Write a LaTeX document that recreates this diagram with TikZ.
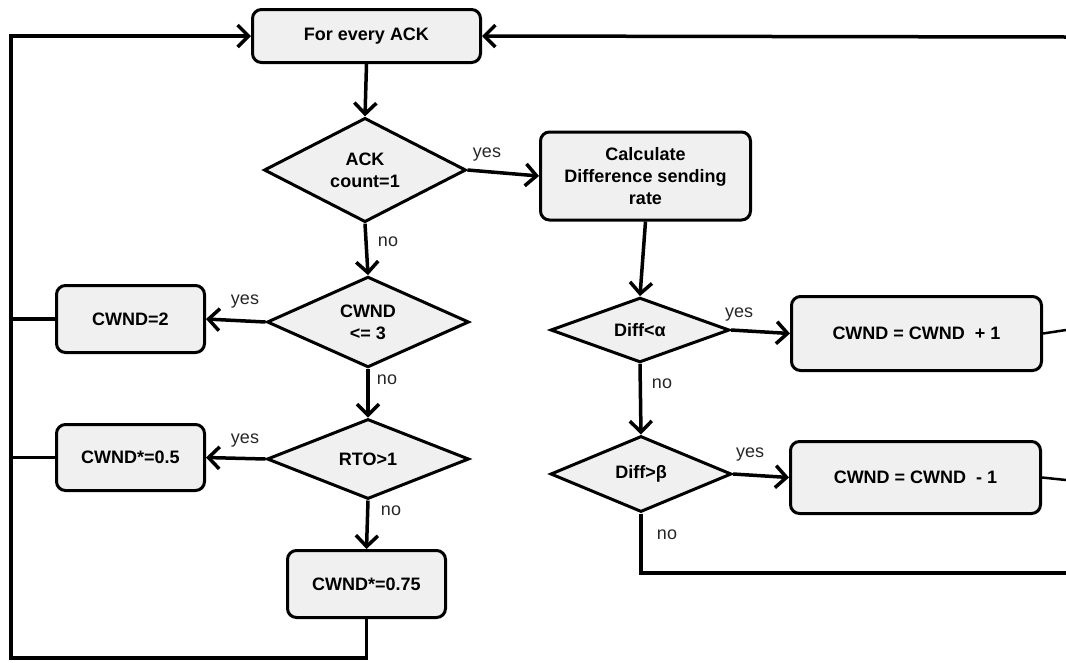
\documentclass[tikz,border=0pt]{standalone}
\usepackage{fontspec}
\setmainfont{Liberation Sans}
\usetikzlibrary{shapes.geometric,arrows.meta}
\definecolor{boxfill}{HTML}{F0F0F0}
\begin{document}
\begin{tikzpicture}[x=1pt,y=-1pt,
  every node/.style={font=\fontsize{18}{22}\selectfont},
  procbox/.style={draw,rectangle,rounded corners=9pt,line width=3pt,fill=boxfill,
    inner sep=0pt,align=center,font=\fontsize{18}{22}\selectfont\bfseries},
  decision/.style={draw,diamond,line width=3pt,fill=boxfill,inner sep=0pt,
    align=center,font=\fontsize{18}{22}\selectfont\bfseries},
  flow/.style={line width=3.5pt,line join=miter,
    -{Straight Barb[length=11pt,width=22pt]}},
  link/.style={line width=3.5pt,line join=miter},
  thinlink/.style={line width=2.5pt},
  lbl/.style={inner sep=0pt,text=black!85}]
\useasboundingbox (0,0) rectangle (1066,662);

% process boxes
\node[procbox,minimum width=228pt,minimum height=53pt] (top) at (366.5,36) {For every ACK};
\node[procbox,minimum width=210pt,minimum height=88pt] (calc) at (645.5,176) {Calculate\\Difference sending\\rate};
\node[procbox,minimum width=148pt,minimum height=67pt] (cw2) at (130.5,319) {CWND=2};
\node[procbox,minimum width=148pt,minimum height=66pt] (cw05) at (130.5,457.5) {CWND*=0.5};
\node[procbox,minimum width=158pt,minimum height=67pt] (cw075) at (366.5,584) {CWND*=0.75};
\node[procbox,minimum width=250pt,minimum height=74pt] (inc) at (916.5,333.5) {CWND = CWND\ \ + 1};
\node[procbox,minimum width=250pt,minimum height=72pt] (dec) at (915.5,477.5) {CWND = CWND\ \ - 1};

% decisions
\node[decision,minimum width=202pt,minimum height=97pt] (d1) at (365,170) {ACK\\count=1};
\node[decision,minimum width=202pt,minimum height=80pt] (d2) at (368,322) {CWND\\<= 3};
\node[decision,minimum width=202pt,minimum height=80pt] (d3) at (368,459) {RTO>1};
\node[decision,minimum width=179pt,minimum height=64pt] (d4) at (640,330) {Diff<α};
\node[decision,minimum width=181pt,minimum height=76pt] (d5) at (641,474) {Diff>β};

% loop-back corners and edge stubs
\coordinate (bl) at (11,658);
\coordinate (tr) at (1066,37);
\coordinate (ie) at (1066,330);
\coordinate (de) at (1066,480);
\coordinate (br) at (1066,573);

% main flow
\draw[flow] (top.south) -- (d1.north);
\draw[flow] (d1.east) -- (calc.west);
\draw[flow] (d1.south) -- (d2.north);
\draw[flow] (d2.west) -- (cw2.east);
\draw[flow] (d2.south) -- (d3.north);
\draw[flow] (d3.west) -- (cw05.east);
\draw[flow] (d3.south) -- (cw075.north);
\draw[flow] (calc.south) -- (d4.north);
\draw[flow] (d4.east) -- (inc.west);
\draw[flow] (d4.south) -- (d5.north);
\draw[flow] (d5.east) -- (dec.west);

% feedback to the top box
\draw[flow] (cw075.south) |- (bl) |- (top.west);
\draw[link] (cw2.west) -- (cw2.west -| bl);
\draw[link] (cw05.west) -- (cw05.west -| bl);
\draw[flow] (tr) -- (top.east);
\draw[link] (d5.south) |- (br);
\draw[thinlink] (inc.east) -- (ie);
\draw[thinlink] (dec.east) -- (de);

% branch labels
\node[lbl] (y1) at (487,155) {yes};
\node[lbl] (n1) at (388,242) {no};
\node[lbl] (y2) at (245,302) {yes};
\node[lbl] (n2) at (387,380) {no};
\node[lbl] (y3) at (245,441) {yes};
\node[lbl] (n3) at (391,511) {no};
\node[lbl] (y4) at (739,315) {yes};
\node[lbl] (n4) at (662,384) {no};
\node[lbl] (y5) at (750,455) {yes};
\node[lbl] (n5) at (667,535) {no};
\end{tikzpicture}
\end{document}
